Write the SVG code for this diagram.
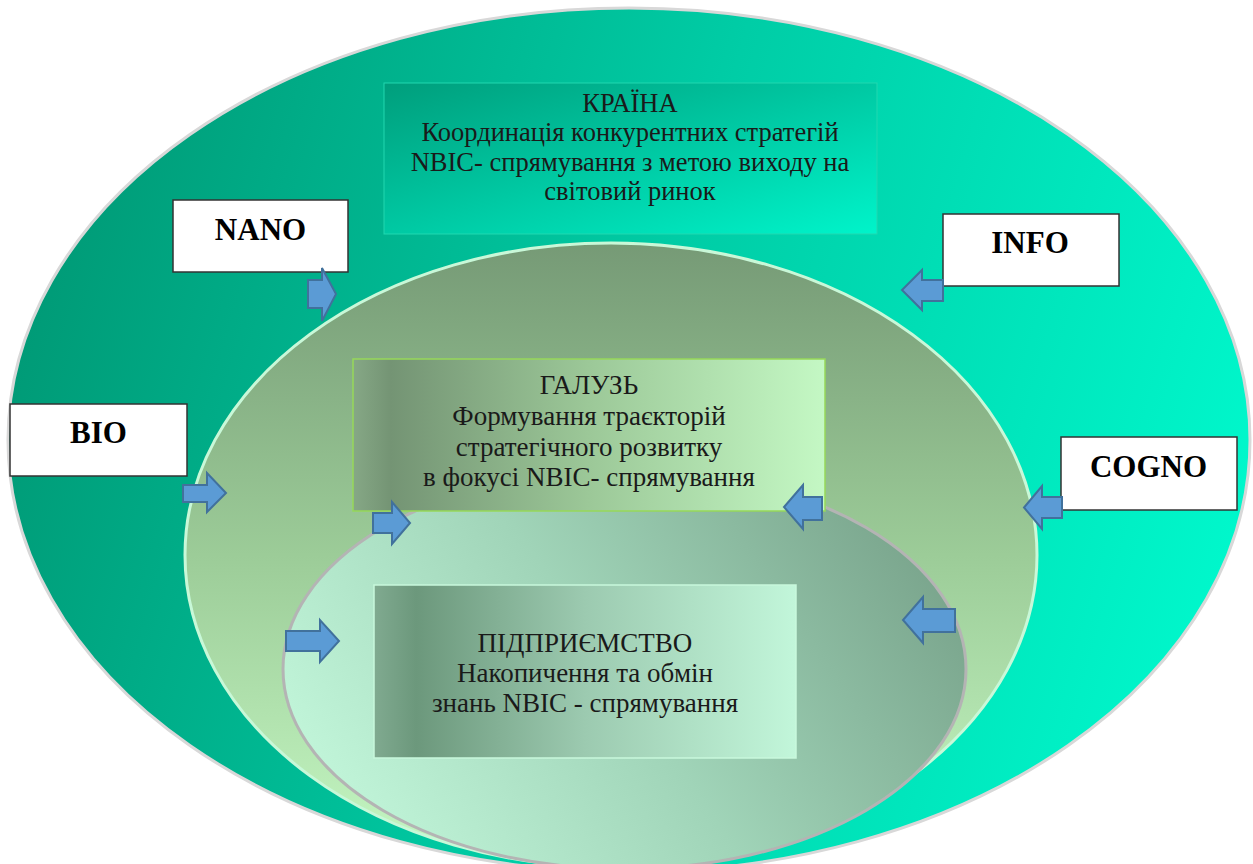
<svg xmlns="http://www.w3.org/2000/svg" width="1253" height="864" viewBox="0 0 1253 864">
<defs>
<linearGradient id="gOuter" x1="0" y1="0.4" x2="1" y2="0.6">
<stop offset="0" stop-color="#009a76"/>
<stop offset="0.5" stop-color="#00cda6"/>
<stop offset="1" stop-color="#00f8cc"/>
</linearGradient>
<linearGradient id="gMid" x1="0" y1="0" x2="0" y2="1">
<stop offset="0" stop-color="#769a76"/>
<stop offset="0.5" stop-color="#9ccc98"/>
<stop offset="1" stop-color="#c6f8c4"/>
</linearGradient>
<linearGradient id="gInner" x1="0" y1="0.6" x2="1" y2="0.2">
<stop offset="0" stop-color="#c0f4d8"/>
<stop offset="0.45" stop-color="#a0d4b8"/>
<stop offset="1" stop-color="#76a088"/>
</linearGradient>
<linearGradient id="gKraina" x1="0" y1="0" x2="1" y2="1">
<stop offset="0" stop-color="#009e7c"/>
<stop offset="1" stop-color="#00f4ca"/>
</linearGradient>
<linearGradient id="gGaluz" x1="0" y1="0" x2="1" y2="0">
<stop offset="0" stop-color="#86a886"/>
<stop offset="0.08" stop-color="#749474"/>
<stop offset="0.5" stop-color="#9cc898"/>
<stop offset="1" stop-color="#c4f8c4"/>
</linearGradient>
<linearGradient id="gPid" x1="0" y1="0" x2="1" y2="0">
<stop offset="0" stop-color="#80aa90"/>
<stop offset="0.1" stop-color="#6c987c"/>
<stop offset="0.5" stop-color="#9ccab0"/>
<stop offset="1" stop-color="#c2f6da"/>
</linearGradient>
</defs>
<style>
.lbl{font-size:31px;font-weight:bold;fill:#000;text-anchor:middle;}
.txt{font-size:27px;fill:#1a1a1a;text-anchor:middle;}
.txs{font-size:26.5px;fill:#1a1a1a;text-anchor:middle;}
.tag{fill:#ffffff;stroke:#333333;stroke-width:1.5;}
.arr{fill:#5b9bd5;stroke:#41719c;stroke-width:2;stroke-linejoin:miter;}
</style>
<g id="outer-ellipse">
<ellipse cx="629" cy="440" rx="621" ry="432" fill="url(#gOuter)" stroke="#d8d8d8" stroke-width="3"/>
</g>
<g id="kraina" font-family="Liberation Serif, serif">
<rect x="384" y="83" width="493" height="151" fill="url(#gKraina)" stroke="#20d8b0" stroke-width="1"/>
<text class="txs" x="630" y="112">КРАЇНА</text>
<text class="txs" x="630" y="141.3">Координація конкурентних стратегій</text>
<text class="txs" x="630" y="170.6">NBIC- спрямування з метою виходу на</text>
<text class="txs" x="630" y="200">світовий ринок</text>
</g>
<g id="middle-ellipse">
<ellipse cx="611" cy="555" rx="426" ry="312" fill="url(#gMid)" stroke="#c8f8d8" stroke-width="3"/>
</g>
<g id="inner-ellipse">
<ellipse cx="624.5" cy="669" rx="341.5" ry="200" fill="url(#gInner)" stroke="#b4b4b4" stroke-width="3"/>
</g>
<g id="galuz" font-family="Liberation Serif, serif">
<rect x="353" y="359" width="472" height="152" fill="url(#gGaluz)" stroke="#96d85a" stroke-width="1.5"/>
<text class="txt" x="589" y="394">ГАЛУЗЬ</text>
<text class="txt" x="589" y="425">Формування траєкторій</text>
<text class="txt" x="589" y="455.5">стратегічного розвитку</text>
<text class="txt" x="589" y="486">в фокусі NBIC- спрямування</text>
</g>
<g id="pidpryiemstvo" font-family="Liberation Serif, serif">
<rect x="374" y="585" width="422" height="173" fill="url(#gPid)" stroke="#c8f8dc" stroke-width="1.5"/>
<text class="txt" x="585" y="651.5">ПІДПРИЄМСТВО</text>
<text class="txt" x="585" y="681.5">Накопичення та обмін</text>
<text class="txt" x="585" y="711.5">знань NBIC - спрямування</text>
</g>
<g id="nano" font-family="Liberation Serif, serif">
<rect class="tag" x="173" y="200" width="175" height="72"/>
<text class="lbl" x="260.5" y="240">NANO</text>
</g>
<g id="info" font-family="Liberation Serif, serif">
<rect class="tag" x="943" y="214" width="176" height="72"/>
<text class="lbl" x="1030" y="253">INFO</text>
</g>
<g id="bio" font-family="Liberation Serif, serif">
<rect class="tag" x="10" y="404" width="177" height="72"/>
<text class="lbl" x="98.5" y="443">BIO</text>
</g>
<g id="cogno" font-family="Liberation Serif, serif">
<rect class="tag" x="1061" y="437" width="176" height="73"/>
<text class="lbl" x="1148.5" y="477">COGNO</text>
</g>
<g id="connectors">
<polygon class="arr" points="308,280 322,280 322,268 336,294 322,321 322,308 308,308"/>
<polygon class="arr" points="183,485 207,485 207,473 226,493 207,512 207,502 183,502"/>
<polygon class="arr" points="943,280 922,280 922,270 902,290 922,310 922,301 943,301"/>
<polygon class="arr" points="1062,497 1042,497 1042,486 1024,507.5 1042,529 1042,518 1062,518"/>
<polygon class="arr" points="286,631 320,631 320,620 339,641 320,662 320,651 286,651"/>
<polygon class="arr" points="955,609 923,609 923,597 903,620 923,643 923,632 955,632"/>
<polygon class="arr" points="822,497 803,497 803,485 784,507 803,529 803,520 822,520"/>
<polygon class="arr" points="373,513 392,513 392,502 410,523 392,544 392,533 373,533"/>
</g>
</svg>
